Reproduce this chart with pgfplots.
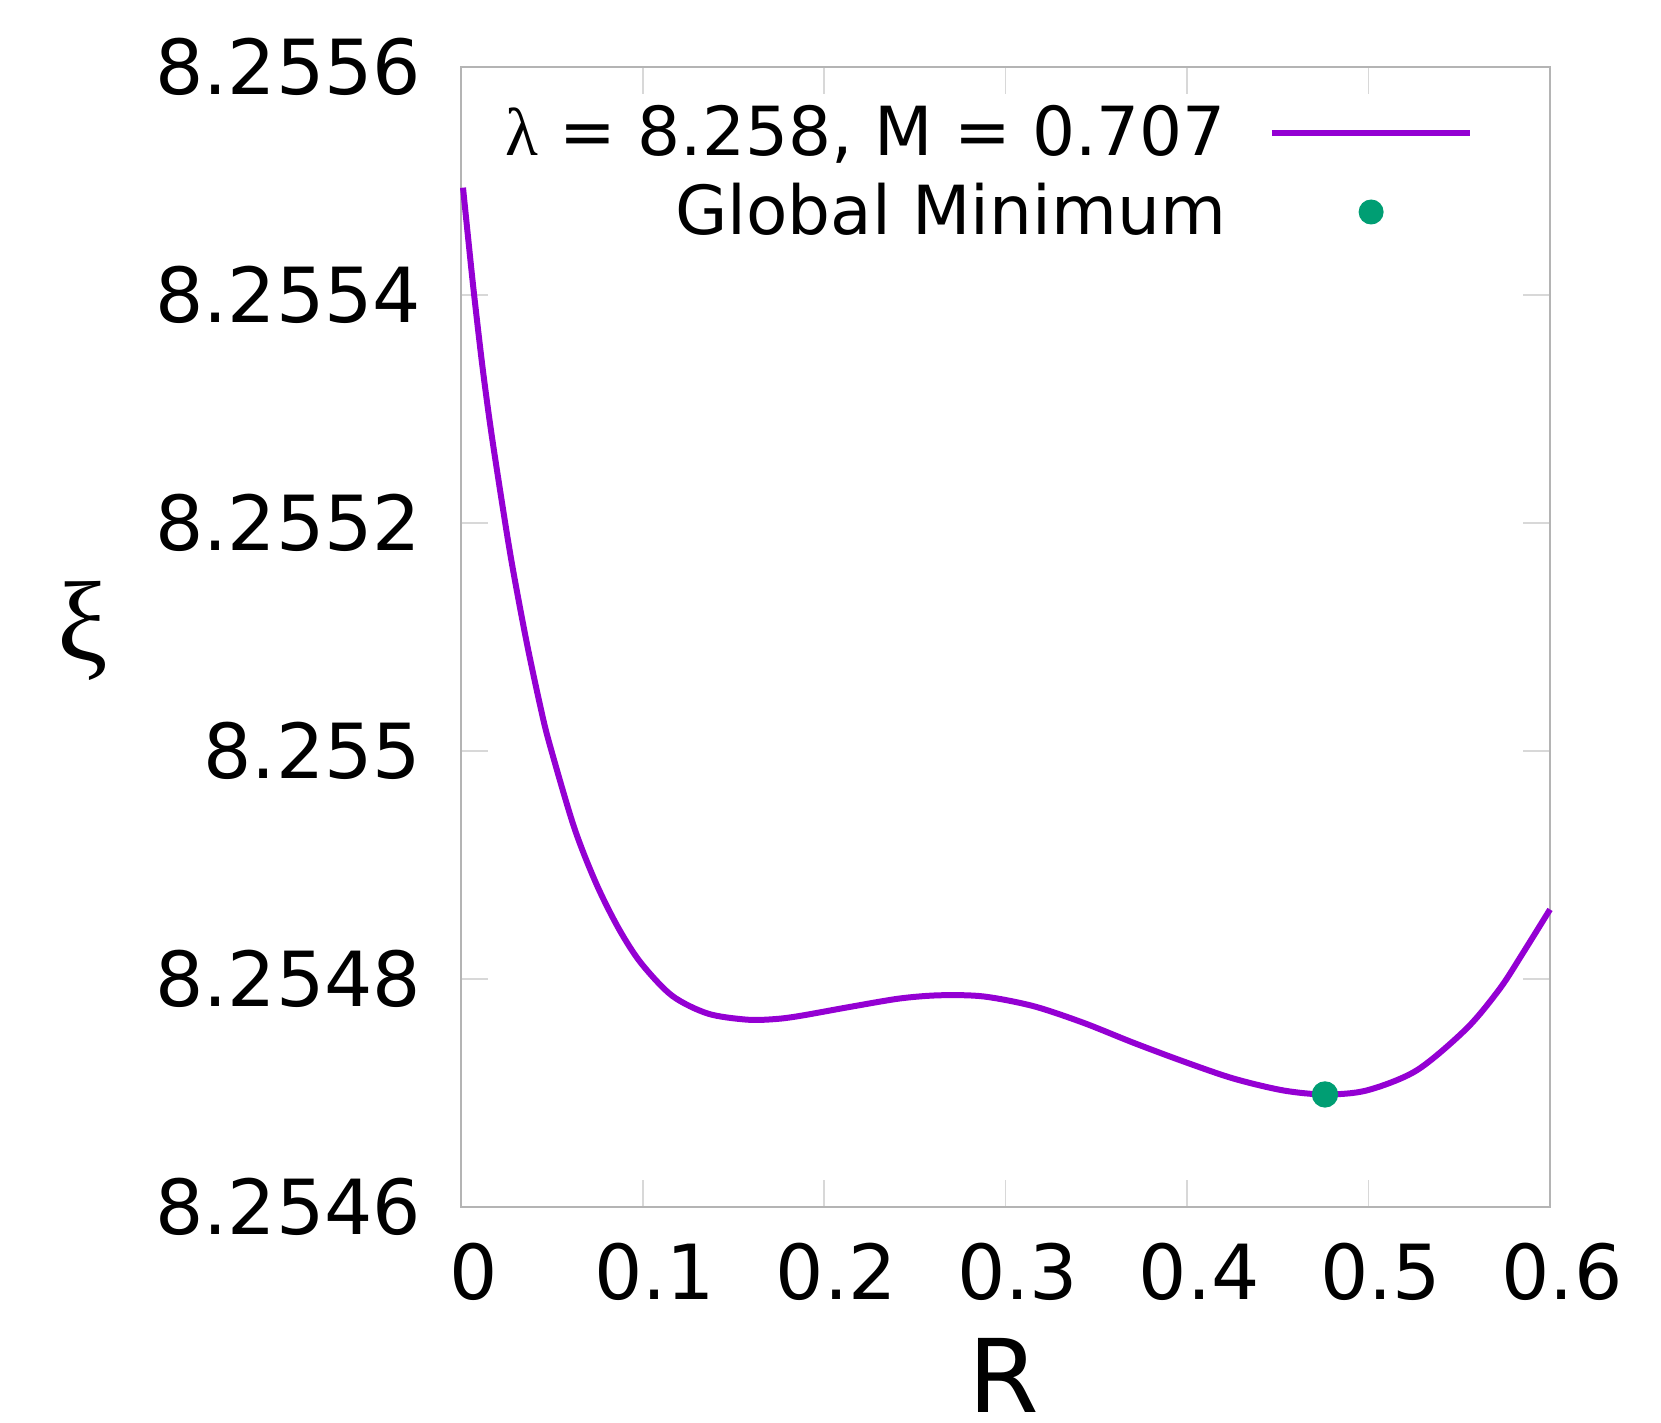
\documentclass[border=0pt]{standalone}
\usepackage{pgfplots}
\pgfplotsset{compat=1.18}
\usepackage{pgfplotstable}
\usepackage{fontspec}
\setmainfont{DejaVu Sans}
\newfontfamily\greekserif{Liberation Serif}
\definecolor{curvec}{HTML}{9400D3}
\definecolor{dotc}{HTML}{009E73}
\definecolor{framec}{HTML}{B4B4B4}
\definecolor{tickc}{HTML}{D8D8D8}
% xi values
\pgfplotstableread{
x y
0.00094 8.2554941
0.00386 8.2554485
0.00700 8.2554010
0.01179 8.2553354
0.01675 8.2552769
0.02408 8.2552011
0.02866 8.2551574
0.03604 8.2550951
0.04337 8.2550403
0.04850 8.2550068
0.06211 8.2549332
0.07435 8.2548835
0.08669 8.2548442
0.09898 8.2548139
0.11618 8.2547851
0.13591 8.2547694
0.15745 8.2547641
0.17288 8.2547646
0.18666 8.2547674
0.21422 8.2547753
0.24177 8.2547827
0.26382 8.2547855
0.28768 8.2547845
0.31524 8.2547760
0.34280 8.2547614
0.37035 8.2547439
0.39791 8.2547275
0.42546 8.2547125
0.45302 8.2547020
0.47600 8.2546985
0.49898 8.2547020
0.52653 8.2547196
0.55409 8.2547564
0.57244 8.2547915
0.58529 8.2548231
0.60000 8.2548608
}\curvetable
\pgfplotstableread{
x y
0.476 8.2546985
}\mintable
% exact decimal offset (units of 1e-4 above 8.2546), to avoid TeX float rounding
\pgfplotstablecreatecol[create col/assign/.code={%
  \getthisrow{y}\yval
  \edef\yoff{\fpeval{(\yval-8.2546)*10000}}%
  \pgfkeyslet{/pgfplots/table/create col/next content}\yoff}]{yo}\curvetable
\pgfplotstablecreatecol[create col/assign/.code={%
  \getthisrow{y}\yval
  \edef\yoff{\fpeval{(\yval-8.2546)*10000}}%
  \pgfkeyslet{/pgfplots/table/create col/next content}\yoff}]{yo}\mintable
\begin{document}
\begin{tikzpicture}
\begin{axis}[
  width=326.6pt, height=341.9pt, scale only axis,
  clip=false,
  xmin=0, xmax=0.6, ymin=0, ymax=10,
  axis line style={framec, line width=0.6pt},
  xtick={0,0.1,0.2,0.3,0.4,0.5,0.6},
  xticklabels={0,0.1,0.2,0.3,0.4,0.5,0.6},
  ytick={0,2,4,6,8,10},
  yticklabels={8.2546,8.2548,8.255,8.2552,8.2554,8.2556},
  tick style={tickc, line width=0.5pt},
  major tick length=8pt,
  tick align=inside,
  ticklabel style={font=\fontsize{22.8}{27}\selectfont},
  xticklabel style={yshift=-7.3pt, xshift=3.6pt},
  yticklabel style={xshift=-8.5pt},
  xlabel={R},
  every axis x label/.style={at={(axis description cs:0.4985,-0.148)}, anchor=center, inner sep=0pt, font=\fontsize{30.5}{36}\selectfont},
  ylabel={\fontsize{34}{40}\selectfont\greekserif ξ},
  every axis y label/.style={at={(axis description cs:-0.3475,0.505)}, anchor=center, inner sep=0pt},
  legend cell align=right,
  legend plot pos=right,
  legend style={draw=none, fill=none, at={(axis description cs:0.9297,0.9763)}, anchor=north east,
    inner sep=0pt, outer sep=0pt, font=\fontsize{20.3}{24}\selectfont,
    column sep=12.8pt, row sep=0pt, cells={anchor=east},
    nodes={inner sep=0pt, text height=18.6pt, text depth=5pt}},
]
\addplot[curvec, line width=1.8pt, smooth,
  legend image code/.code={\draw[curvec, line width=1.8pt] (0pt,0pt) -- (59.6pt,0pt);}]
  table[x=x, y=yo]{\curvetable};
\addlegendentry{{\greekserif λ} = 8.258, M = 0.707}
\addplot[only marks, mark=*, mark size=3.75pt, color=dotc, mark options={fill=dotc, draw=dotc},
  legend image code/.code={\path[draw=none, fill=none] (0pt,0pt) -- (59.6pt,0pt); \fill[dotc, draw=none] (29.8pt,0pt) circle (3.75pt);}]
  table[x=x, y=yo]{\mintable};
\addlegendentry{Global Minimum}
\path (axis description cs:-0.42372,-0.18947) rectangle (axis description cs:1.10196,1.05877);
\end{axis}
\end{tikzpicture}
\end{document}
